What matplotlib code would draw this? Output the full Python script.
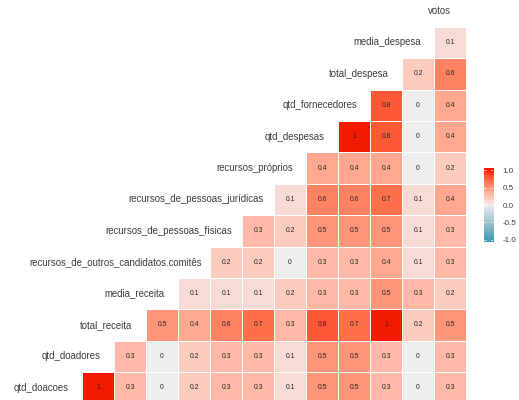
import numpy as np
import matplotlib
matplotlib.use("Agg")
import matplotlib.pyplot as plt
from matplotlib.colors import ListedColormap

# Variables, ordered from the top row (no cells) down to the bottom row
variables = [
    "votos", "media_despesa", "total_despesa", "qtd_fornecedores",
    "qtd_despesas", "recursos_próprios", "recursos_de_pessoas_jurídicas",
    "recursos_de_pessoas_físicas", "recursos_de_outros_candidatos.comitês",
    "media_receita", "total_receita", "qtd_doadores", "qtd_doacoes",
]

# Rounded correlations of each row variable with the variables to its right
corr_votos = []
corr_media_despesa = [0.1]
corr_total_despesa = [0.2, 0.6]
corr_qtd_fornecedores = [0.8, 0.0, 0.4]
corr_qtd_despesas = [1.0, 0.8, 0.0, 0.4]
corr_recursos_proprios = [0.4, 0.4, 0.4, 0.0, 0.2]
corr_recursos_pj = [0.1, 0.6, 0.6, 0.7, 0.1, 0.4]
corr_recursos_pf = [0.3, 0.2, 0.5, 0.5, 0.5, 0.1, 0.3]
corr_recursos_outros = [0.2, 0.2, 0.0, 0.3, 0.3, 0.4, 0.1, 0.3]
corr_media_receita = [0.1, 0.1, 0.1, 0.2, 0.3, 0.3, 0.5, 0.3, 0.2]
corr_total_receita = [0.5, 0.4, 0.6, 0.7, 0.3, 0.8, 0.7, 1.0, 0.2, 0.5]
corr_qtd_doadores = [0.3, 0.0, 0.2, 0.3, 0.3, 0.1, 0.5, 0.5, 0.3, 0.0, 0.3]
corr_qtd_doacoes = [1.0, 0.3, 0.0, 0.2, 0.3, 0.3, 0.1, 0.5, 0.5, 0.3, 0.0, 0.3]

rows = [corr_votos, corr_media_despesa, corr_total_despesa, corr_qtd_fornecedores,
        corr_qtd_despesas, corr_recursos_proprios, corr_recursos_pj,
        corr_recursos_pf, corr_recursos_outros, corr_media_receita,
        corr_total_receita, corr_qtd_doadores, corr_qtd_doacoes]

legend_ticks = [1.0, 0.5, 0.0, -0.5, -1.0]

n_cols = 12
n_rows = len(variables)
mat = np.full((n_rows, n_cols), np.nan)
for r, vals in enumerate(rows):
    if vals:
        mat[r, n_cols - len(vals):] = vals


# Diverging palette interpolated in CIE Lab, low -> mid -> high
def _srgb_to_lab(hexc):
    rgb = np.array([int(hexc[i:i + 2], 16) / 255 for i in (1, 3, 5)])
    lin = np.where(rgb <= 0.04045, rgb / 12.92, ((rgb + 0.055) / 1.055) ** 2.4)
    M = np.array([[0.4124, 0.3576, 0.1805],
                  [0.2126, 0.7152, 0.0722],
                  [0.0193, 0.1192, 0.9505]])
    xyz = M @ lin / np.array([0.95047, 1.0, 1.08883])
    f = np.where(xyz > 0.008856, np.cbrt(xyz), 7.787 * xyz + 16 / 116)
    return np.array([116 * f[1] - 16, 500 * (f[0] - f[1]), 200 * (f[1] - f[2])])


def _lab_to_rgb(lab):
    L, a, b = lab
    fy = (L + 16) / 116
    fx = fy + a / 500
    fz = fy - b / 200
    f = np.array([fx, fy, fz])
    xyz = np.where(f ** 3 > 0.008856, f ** 3, (f - 16 / 116) / 7.787)
    xyz = xyz * np.array([0.95047, 1.0, 1.08883])
    Minv = np.array([[3.2406, -1.5372, -0.4986],
                     [-0.9689, 1.8758, 0.0415],
                     [0.0557, -0.2040, 1.0570]])
    lin = Minv @ xyz
    lin = np.clip(lin, 0, 1)
    rgb = np.where(lin <= 0.0031308, 12.92 * lin, 1.055 * lin ** (1 / 2.4) - 0.055)
    return np.clip(rgb, 0, 1)


low, mid, high = "#3B9AB2", "#EEEEEE", "#F21A00"
lab_low, lab_mid, lab_high = _srgb_to_lab(low), _srgb_to_lab(mid), _srgb_to_lab(high)
colors = []
for t in np.linspace(-1, 1, 257):
    if t < 0:
        lab = lab_mid + (lab_low - lab_mid) * (-t)
    else:
        lab = lab_mid + (lab_high - lab_mid) * t
    colors.append(_lab_to_rgb(lab))
cmap = ListedColormap(colors)

W, H, DPI = 519, 400, 100
fig = plt.figure(figsize=(W / DPI, H / DPI), dpi=DPI)
fig.patch.set_facecolor("white")

font = "Liberation Sans"
label_color = "#3d3d3d"

# Grid geometry: cell column c centred at 98 + 32 c px, row r at 11 + 31.4 r px
cw, rh, x0, y0 = 32.0, 31.4, 98.0, 11.0
ax = fig.add_axes([0, 0, 1, 1])
ax.set_xlim((0 - x0) / cw, (W - x0) / cw)
ax.set_ylim((H - y0) / rh, (0 - y0) / rh)
ax.axis("off")

xe = np.arange(n_cols + 1) - 0.5
ye = np.arange(n_rows + 1) - 0.5
ax.pcolormesh(xe, ye, np.ma.masked_invalid(mat), cmap=cmap, vmin=-1, vmax=1,
              edgecolors="white", linewidth=0.4)

for r in range(n_rows):
    for c in range(n_cols):
        v = mat[r, c]
        if np.isnan(v):
            continue
        txt = f"{v:.0f}" if float(v).is_integer() else f"{v:.1f}"
        ax.text(c, r, txt, ha="center", va="center", fontsize=4.9,
                family=font, color="#262626")

# Variable names along the diagonal, horizontally justified at 0.955
renderer = fig.canvas.get_renderer()
for r, name in enumerate(variables):
    diag = n_cols - 1 - r
    t = ax.text(diag, r, name, ha="left", va="center", fontsize=6.9,
                family=font, color=label_color)
    w_px = t.get_window_extent(renderer=renderer).width
    t.set_x(diag - 0.955 * w_px / cw)

# Colour bar legend
cax = fig.add_axes([484 / W, 1 - 242 / H, 9 / W, 74 / H])
grad = np.linspace(-1.06, 1.06, 200).reshape(-1, 1)
cax.imshow(grad, cmap=cmap, vmin=-1, vmax=1, aspect="auto", origin="lower",
           extent=[0, 1, -1.06, 1.06])
cax.set_xlim(0, 1)
cax.set_ylim(-1.06, 1.06)
for s in cax.spines.values():
    s.set_visible(False)
cax.set_xticks([])
cax.set_yticks(legend_ticks)
cax.yaxis.tick_right()
cax.set_yticklabels([f"{t:.1f}" for t in legend_ticks], fontsize=5.8,
                    family=font, color=label_color)
cax.tick_params(axis="y", length=0, pad=7)
for t in legend_ticks:
    cax.plot([0, 0.2], [t, t], color="white", lw=0.5)
    cax.plot([0.8, 1], [t, t], color="white", lw=0.5)

fig.savefig("out.png", dpi=DPI, facecolor="white")
